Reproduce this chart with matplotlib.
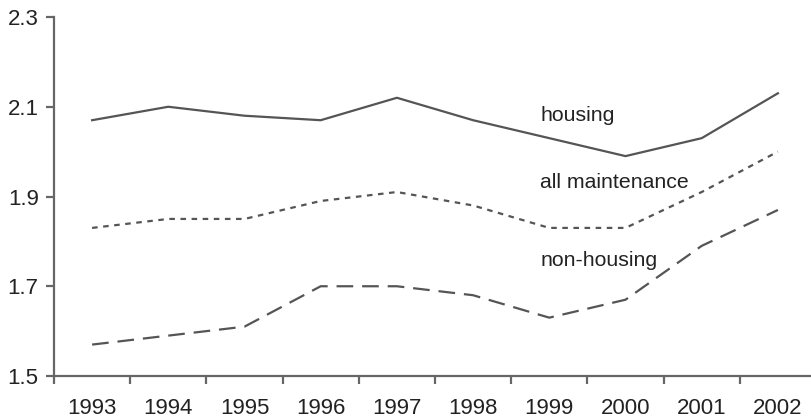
import matplotlib.pyplot as plt
import numpy as np

years = ["1993", "1994", "1995", "1996", "1997", "1998", "1999", "2000", "2001", "2002"]
housing = [2.07, 2.10, 2.08, 2.07, 2.12, 2.07, 2.03, 1.99, 2.03, 2.13]
all_maint = [1.83, 1.85, 1.85, 1.89, 1.91, 1.88, 1.83, 1.83, 1.91, 2.00]
non_housing = [1.57, 1.59, 1.61, 1.70, 1.70, 1.68, 1.63, 1.67, 1.79, 1.87]
y_ticks = [1.5, 1.7, 1.9, 2.1, 2.3]

plt.rcParams["font.family"] = ["Liberation Sans", "DejaVu Sans"]

fig = plt.figure(figsize=(8.11, 4.19), dpi=100)
ax = fig.add_axes([54 / 811, 43 / 419, 762 / 811, 359 / 419])

x = np.arange(len(years))
line_col = "#555555"
ax.plot(x, housing, color=line_col, lw=1.6, ls="-")
ax.plot(x, all_maint, color=line_col, lw=1.6, ls=(0, (2.5, 2.5)))
ax.plot(x, non_housing, color=line_col, lw=1.6, ls=(0, (7.5, 4)))

# series labels
ax.text(5.88, 2.08, "housing", fontsize=15.3, color="#222222", va="center")
ax.text(5.88, 1.932, "all maintenance", fontsize=15.3, color="#222222", va="center")
ax.text(5.88, 1.758, "non-housing", fontsize=15.3, color="#222222", va="center")

ax.set_xlim(-0.5, len(years) - 0.5)
ax.set_ylim(1.5, 2.3)
ax.set_yticks(y_ticks)
ax.set_yticklabels([f"{v:.1f}" for v in y_ticks])

# category labels centred, ticks on the boundaries
ax.set_xticks(x)
ax.set_xticklabels(years)
ax.set_xticks(np.arange(len(years) + 1) - 0.5, minor=True)
ax.tick_params(axis="x", which="major", length=0, pad=16, labelsize=16, labelcolor="#222222")
ax.tick_params(axis="x", which="minor", length=6, width=1.6, color="#666666", direction="out")
ax.tick_params(axis="y", length=6, width=1.6, color="#666666", pad=5, labelsize=16, labelcolor="#222222")

for side in ["top", "right"]:
    ax.spines[side].set_visible(False)
for side in ["left", "bottom"]:
    ax.spines[side].set_color("#666666")
    ax.spines[side].set_linewidth(1.6)

fig.savefig("out.png", dpi=100)
